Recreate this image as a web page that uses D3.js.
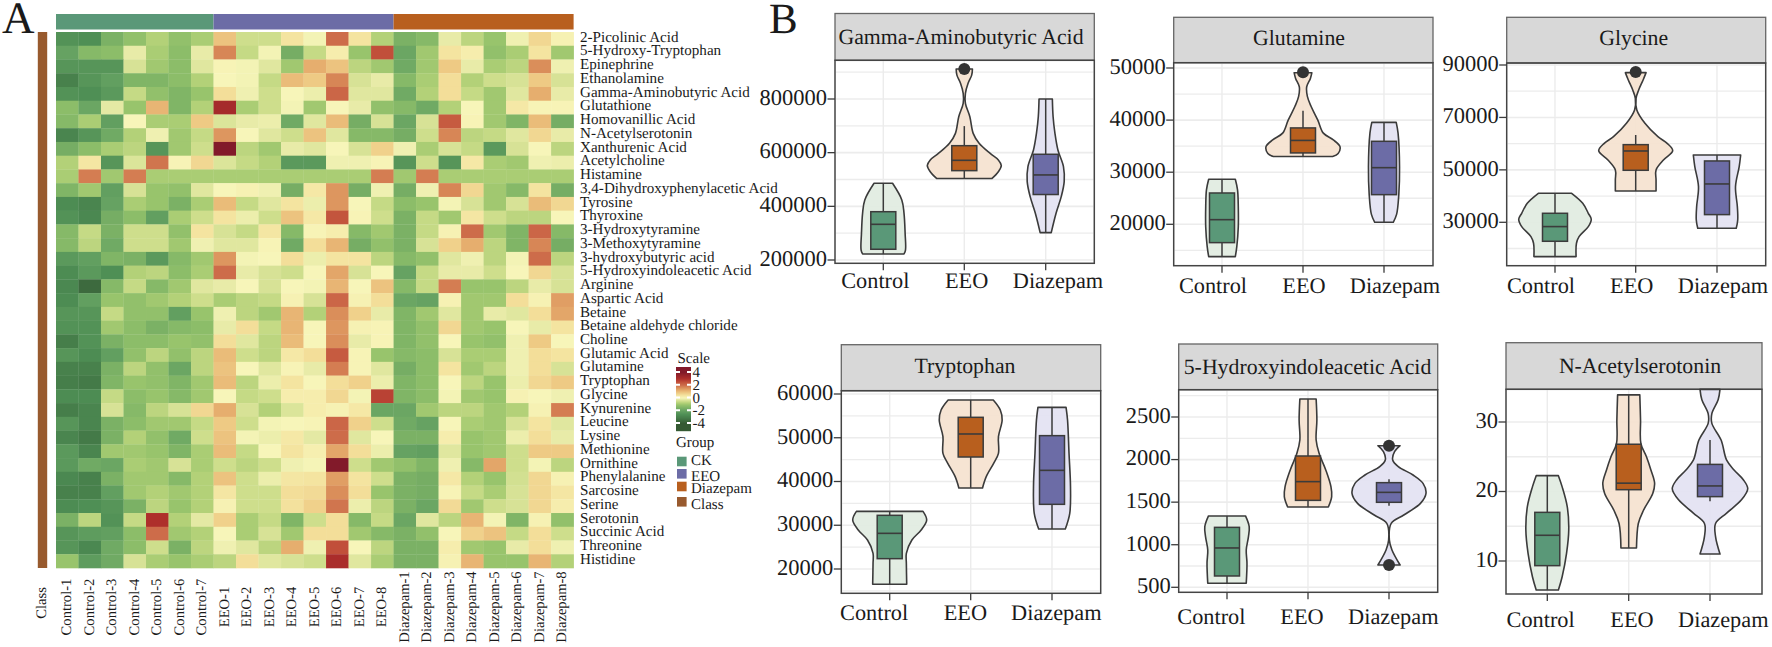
<!DOCTYPE html>
<html><head><meta charset="utf-8">
<script src="https://cdn.jsdelivr.net/npm/d3@7"></script>
<style>html,body{margin:0;padding:0;background:#fff;overflow:hidden}svg{display:block}text{font-family:"Liberation Serif",serif;fill:#1a1a1a;text-rendering:geometricPrecision}</style>
</head><body><svg id="c" width="1772" height="647"></svg>
<script>
// ---------- heatmap data ----------
const metabolites=["2-Picolinic Acid","5-Hydroxy-Tryptophan","Epinephrine","Ethanolamine","Gamma-Aminobutyric Acid","Glutathione","Homovanillic Acid","N-Acetylserotonin","Xanthurenic Acid","Acetylcholine","Histamine","3,4-Dihydroxyphenylacetic Acid","Tyrosine","Thyroxine","3-Hydroxytyramine","3-Methoxytyramine","3-hydroxybutyric acid","5-Hydroxyindoleacetic Acid","Arginine","Aspartic Acid","Betaine","Betaine aldehyde chloride","Choline","Glutamic Acid","Glutamine","Tryptophan","Glycine","Kynurenine","Leucine","Lysine","Methionine","Ornithine","Phenylalanine","Sarcosine","Serine","Serotonin","Succinic Acid","Threonine","Histidine"];
const samples=["Control-1","Control-2","Control-3","Control-4","Control-5","Control-6","Control-7","EEO-1","EEO-2","EEO-3","EEO-4","EEO-5","EEO-6","EEO-7","EEO-8","Diazepam-1","Diazepam-2","Diazepam-3","Diazepam-4","Diazepam-5","Diazepam-6","Diazepam-7","Diazepam-8"];
const heatValues=[
[-2.5,-2.6,-1.6,-1.2,-.8,-1.2,-.9,.9,-.5,-.5,.4,-.05,2,.4,-.8,-1.6,-1.4,-.2,-.7,-1.1,-.1,.6,.1],
[-2,-1.4,-1.3,-.2,-.9,-1.3,-.2,1.7,-.6,-.05,-1.7,-.6,.2,-1.1,2.5,-1.9,-1,.4,.2,-1.2,-.9,.4,-1],
[-2.4,-2.4,-2.4,-.4,-1,-1.3,-.3,.05,-.05,-.3,-1,1.2,.9,-.7,-1,-1.8,-1,.8,-.2,-.9,-.7,1.6,-.1],
[-3,-2.4,-2.1,-1.5,-1.5,-1.3,-.8,0,-.05,-.6,1,.8,1.7,-.4,-.2,-1.4,-.9,.5,-.8,-.5,-.4,.8,-.4],
[-2.5,-2.6,-2.3,-.6,-1.2,-1.5,-1.1,.5,-.1,-.5,0,-.15,2.1,-.3,-.3,-1.8,-.8,.5,-.6,-1,-.3,1.2,-.2],
[-1.3,-1.9,-.25,-1.1,1.1,-1.5,-.8,3.2,-.9,-.5,-.05,-1,0,-.2,-1.2,-1.4,-1.8,-.8,0,-1,.3,.05,.05],
[-1.4,-.9,-2.1,0,-.9,-.9,.8,-.35,-.2,-.15,-1.8,-.3,1,-1.7,-.4,-1.9,-.4,2.3,.05,-1,-1.5,1,-1.7],
[-2.9,-2.4,-1.8,-.8,-.1,-1,-.6,1.5,0,-.3,-.5,.9,-.3,-1.4,-1.4,-1.7,-.5,1.7,-.7,-.6,-.3,.6,-.2],
[-1.7,-1.3,-.9,-.7,-2.4,-1,-.5,4,-.7,-1,-.2,-.3,0,-.4,.7,-.1,-.9,-.4,-.6,-2.3,-.4,0,-.7],
[-.8,.35,-2.4,-.35,1.9,.05,.6,-.35,-.6,-.8,-2.3,-2.3,-.1,-.1,.05,-2.4,-.5,-2.4,.3,-.9,-1,-.1,-.15],
[-.9,1.8,-1,1.8,-.9,-.9,-.9,-.9,-.9,-.9,-.9,-.9,-.9,-.9,1.8,-1,1.8,-.9,-.9,-.9,-.9,-.9,-.9],
[-1.5,-1,-2.1,-.4,-1.1,-1.2,-.3,0,.1,-.1,-1.7,.3,1.5,-1.7,-.1,-1.7,-.1,1.7,.6,-1,-1.4,.4,-1.7],
[-2.7,-2.9,-2,-.9,-1.1,-1.6,-.9,1,-.6,-.3,.4,-.15,1.5,0,-.6,-1.3,-1.1,-.05,-.4,-1,-.4,1,.6],
[-2.5,-2.8,-1.7,-1.3,-2.1,-.9,-.5,.4,-.15,-.5,.9,.3,2.4,.05,-.5,-1.6,-.6,-1,.35,-.5,-.7,-.7,0],
[-1.4,-.6,-1.6,-.5,-.5,-1.2,.4,-.4,-.6,.35,-1.4,.05,.2,-1.4,-1,-1.6,-.6,.1,2,-1,-1.5,2.1,-1.4],
[-1.4,-.7,-1.8,-.5,-.5,-1,-.1,-.3,-.3,.05,-1.8,.5,1.1,-1.7,-1.2,-1.6,-.4,.7,1.2,-.7,-1.5,1.7,-1.7],
[-2.3,-2.1,-1.5,-1.6,-2.3,-1.4,-1,1.5,-.05,0,.5,-.15,.4,.4,-.7,-1.4,-1.2,-.3,-.1,-.7,-.05,2,-.7],
[-2.7,-2.3,-2.6,-.8,-.7,-1.3,-.9,2,-.2,-.4,-.5,0,1.3,-.4,0,-2,-.6,-.2,-.2,-.5,0,.6,-.4],
[-2.8,-3.6,-1.4,-.6,-1.4,-1,-.3,-.2,0,-.4,0,-.05,1.1,0,.9,-1.4,-.6,1.8,-1.1,-1.1,-.7,-.2,-.4],
[-2.7,-2.1,-1.1,-1.2,-1,-.8,-.5,-.9,-.7,-.6,.1,-.4,2.1,.1,.5,-1.9,-2,.1,-1,-1,.5,.1,1.4],
[-2.4,-2.4,-.6,-1.2,-1.2,-2.1,-1.1,-.1,-.7,-1,1.1,-.8,1.6,.7,-.2,-1.5,-1,-.3,-1,-.2,-.3,.5,1.3],
[-2.5,-2.5,-1,-1.3,-1.6,-1.4,-1.3,-.2,.5,-.6,1.1,0,1.5,.1,.05,-1.5,-1.2,.6,-1,-1.1,0,-.2,.4],
[-3.1,-2.5,-1.6,-1.3,-1.3,-1.1,-1.2,.5,-.3,-.7,1,0,1.6,-.2,.05,-1.5,-1.2,0,-1.1,-1.2,-.1,.8,0],
[-2.4,-2.7,-2.1,-1.2,-.7,-1.2,-.7,1,-.5,-.7,.3,.5,2.3,.05,-1.1,-1.4,-1.3,-.4,-.9,-.9,-.1,.5,.4],
[-3,-3,-1.6,-.7,-1.2,-1.9,-.7,.9,0,-.3,.05,-.2,1.8,.05,-.3,-1.7,-1.3,.4,-1,-.7,-.1,.5,-.4],
[-3.1,-3.2,-1.5,-1.1,-1.2,-1.5,-1,1,-.7,-.15,.4,0,.5,.7,-.15,-1.5,-1.3,0,-.7,-1.1,-.15,.6,.8],
[-2.7,-2.7,-.6,-1.3,-1.1,-1.4,-1,0,-.6,-.5,.2,.2,.6,-.05,2.7,-1.5,-1.3,-.05,-1,-1.1,.1,0,-.1],
[-3.1,-2.9,-.4,-1.4,-.7,-.4,.6,1.2,-.4,-.8,-.35,.2,.1,.3,-1.9,-1.9,-1,-.7,-.7,-1,-.8,.1,1.8],
[-2.4,-2.9,-1.6,-1.3,-1,-1,-.6,.8,-.5,-.05,0,.05,2.1,.7,-.5,-1.8,-2,0,-.9,-1,-.4,.4,-.3],
[-2.9,-3.2,-1.6,-.8,-1.2,-1.8,-.5,.9,-.05,-.15,.3,-.25,2,-.3,0,-1.6,-1.6,.2,-1.1,-1,-.15,.5,-.2],
[-2.3,-2.9,-1,-1,-1.1,-1.5,-.9,1,-.6,0,.4,.15,1.3,.5,-.15,-2,-2.1,-.3,-1.1,-1,-.5,.8,.8],
[-2.3,-1.8,-1.9,-.9,-1,-.4,-.9,-.5,-.7,-.5,-.1,-.02,4,-.5,-1,-1.2,-1.5,-.1,-1.4,1.3,-.5,-.05,-.7],
[-2.8,-3,-1.6,-1,-1,-1.4,-.8,.9,-.5,-.15,.35,.4,1.4,.4,-.5,-1.6,-1.7,.3,-.8,-1.1,-.45,.6,.1],
[-3,-3,-2.1,-1,-.8,-1,-.8,.35,-.5,-.5,.5,.55,1.6,.5,-1.1,-1.6,-1.7,.05,-.6,-.9,-.4,.6,.35],
[-2.7,-2.6,-2.4,-1.6,-.7,-1.1,-.8,.1,-.5,-.5,.45,.7,1.9,-.15,-.7,-1.6,-1.9,.55,-1,-.5,-.4,.6,.2],
[-1.6,-.7,-2.5,-.6,3,-.8,-.25,.7,-.9,-.6,-1.5,-.5,.5,-1.4,-.6,-1.9,-.3,-.7,1.1,-.05,-1.5,.1,-1.2],
[-2.4,-2.2,-2.1,-1.3,2,-1,-.8,0,-.9,-.4,-1,.5,.5,-1,-1.4,-1.6,-1.2,0,.7,.9,-.6,.5,-.5],
[-2.4,-2.8,-1.8,-1.3,-.5,-1.6,-.7,-.1,-.3,-.7,1.2,-.1,2.5,0,-.7,-1.6,-1.6,.2,-1,-1.1,-.2,.5,-.1],
[-1.1,-2.2,-1.8,-.4,-.9,-1.1,-.9,-.7,.5,-.3,-.4,-.5,3.1,-.3,-.9,-1.6,-1.6,.1,1.1,-1.1,-1.1,1.1,-.8]
];
const legendTicks=[4,2,0,-2,-4];
const legendGroups=["CK","EEO","Diazepam","Class"];
const groupNames=["Control","EEO","Diazepam"];

// ---------- violin data: each profile is [value, relative half width] ----------
const gabaProfiles=[
 [[485800,.25],[424000,.5],[374000,.56],[299000,.59],[237000,.6],[222500,.56]],
 [[911800,.22],[889000,.2],[858000,.1],[821000,.03],[784000,.03],[734000,.15],[672000,.24],[635000,.4],[597000,.7],[573000,.92],[552000,1],[529000,.92],[504000,.75]],
 [[800000,.18],[734000,.2],[672000,.25],[610000,.33],[548000,.48],[492000,.5],[436000,.42],[374000,.28],[302000,.15]]];
const gabaBoxes=[[222500,240000,333000,380000,485800],[504000,533000,571500,626000,699000],[302000,444000,517000,594000,800000]];
const gabaOutliers=[[],[912000],[]];

const glutamineProfiles=[
 [[28640,.36],[26600,.42],[23400,.44],[19500,.44],[15700,.4],[13790,.36]],
 [[49100,.24],[48000,.2],[46400,.1],[44500,.12],[42600,.22],[40000,.4],[37500,.55],[36200,.82],[34900,1],[33600,.95],[33000,.8]],
 [[39570,.33],[37500,.38],[31000,.42],[25700,.4],[21900,.34],[20380,.25]]];
const glutamineBoxes=[[13900,16480,20890,26010,28600],[33100,33700,36100,38500,41800],[20400,25690,30870,35930,39570]];
const glutamineOutliers=[[],[49200],[]];

const glycineProfiles=[
 [[41070,.45],[37250,.75],[33440,.9],[31150,.98],[28360,.9],[24540,.65],[22000,.58],[16920,.57]],
 [[87080,.28],[84280,.2],[80470,.08],[77290,.01],[72840,.03],[67760,.25],[62670,.6],[60130,.85],[57340,1],[53780,.75],[49970,.55],[46150,.55],[41960,.55]],
 [[55680,.64],[51240,.6],[43600,.5],[35980,.55],[30900,.56],[27720,.52]]];
const glycineBoxes=[[16920,22760,28360,33440,41070],[41960,49840,57200,59620,63300],[27720,32930,44630,53400,55680]];
const glycineOutliers=[[],[87300],[]];

const tryptophanProfiles=[
 [[33180,.9],[31200,1],[28915,.85],[26630,.6],[23580,.45],[21300,.45],[16500,.46]],
 [[58630,.61],[56340,.8],[54060,.85],[50250,.75],[46440,.75],[44150,.62],[41100,.42],[38530,.32]],
 [[56950,.38],[54060,.42],[46440,.46],[38820,.5],[32720,.48],[29140,.36]]];
const tryptophanBoxes=[[16500,22360,28150,32270,33180],[38530,45600,50860,54670,58630],[29140,34780,42550,50480,56950]];
const tryptophanOutliers=[[],[],[]];

const hiaaProfiles=[
 [[1338,.5],[1212,.6],[1095,.58],[938,.52],[782,.54],[547,.52]],
 [[2711,.22],[2465,.24],[2230,.22],[2073,.3],[1878,.48],[1682,.62],[1565,.64],[1443,.55]],
 [[2163,.3],[2093,.15],[1995,.1],[1917,.25],[1819,.65],[1721,.92],[1604,1],[1486,.85],[1349,.4],[1251,.06],[1056,.01],[939,.08],[762,.3]]];
const hiaaBoxes=[[547,633,962,1204,1338],[1443,1521,1741,2042,2711],[1459,1498,1615,1729,1768]];
const hiaaOutliers=[[],[],[2163,762]];

const nasProfiles=[
 [[22.28,.3],[20.7,.4],[17.8,.54],[14.5,.58],[11.1,.52],[7.7,.4],[5.83,.3]],
 [[33.9,.3],[30.3,.32],[26.9,.33],[25,.48],[23.1,.6],[21.2,.7],[19.7,.65],[17.3,.4],[15.4,.26],[11.87,.21]],
 [[34.7,.27],[33.2,.22],[31.2,.05],[29.8,.05],[27.4,.3],[24.5,.45],[23.1,.65],[21.7,.9],[20.4,1.02],[18.8,.85],[16.9,.45],[15.4,.15],[13.5,.15],[11,.27]]];
const nasBoxes=[[5.83,9.33,13.7,17,22.28],[11.87,20.26,21.2,26.8,33.9],[18.6,19.26,20.8,23.9,27.4]];
const nasOutliers=[[],[],[]];

const panelTitles=["Gamma-Aminobutyric Acid","Glutamine","Glycine","Tryptophan","5-Hydroxyindoleacetic Acid","N-Acetylserotonin"];
const panelTicks=[[200000,400000,600000,800000],[20000,30000,40000,50000],[30000,50000,70000,90000],[20000,30000,40000,50000,60000],[500,1000,1500,2000,2500],[10,20,30]];

// ---------- layout ----------
const svg=d3.select("#c");
const SERIF='"Liberation Serif",serif';
const heat={x0:56,x1:573.6,y0:32,y1:568};
const stops=[[-4,"#355a33"],[-3.2,"#447a48"],[-2.6,"#4f8f55"],[-2,"#66a262"],[-1.5,"#80b566"],[-1.1,"#98c46c"],[-.8,"#b3d178"],[-.5,"#cede8c"],[-.25,"#e4e9a4"],[0,"#f7f5b9"],[.4,"#f4e4a0"],[.8,"#eeca84"],[1.2,"#e6ae6e"],[1.6,"#da8e5a"],[2,"#cd6c4a"],[2.5,"#c14f3a"],[3,"#ae2f2b"],[4,"#821a2a"]];
const color=d3.scaleLinear().domain(stops.map(d=>d[0])).range(stops.map(d=>d[1])).interpolate(d3.interpolateRgb);
const xH=d3.scaleBand().domain(samples).range([heat.x0,heat.x1]);
const yH=d3.scaleBand().domain(metabolites).range([heat.y0,heat.y1]);

const G=svg.append("g");
G.selectAll("g.r").data(heatValues).join("g").attr("class","r").each(function(row,i){
  d3.select(this).selectAll("rect").data(row).join("rect")
   .attr("x",(d,j)=>xH(samples[j])).attr("y",yH(metabolites[i])).attr("width",xH.bandwidth()+.3).attr("height",yH.bandwidth()+.3)
   .attr("fill",d=>color(d));
});
// annotation bars
const annGroups=[{c:"#5a9878",a:0,b:6},{c:"#6c6ca6",a:7,b:14},{c:"#b85f1e",a:15,b:22}];
annGroups.forEach(g=>G.append("rect").attr("x",xH(samples[g.a])).attr("y",14).attr("width",xH(samples[g.b])+xH.bandwidth()-xH(samples[g.a])).attr("height",15.5).attr("fill",g.c));
G.append("rect").attr("x",37.8).attr("y",heat.y0).attr("width",9.4).attr("height",heat.y1-heat.y0).attr("fill","#985a2e");
// labels
G.selectAll("text.m").data(metabolites).join("text").attr("class","m").attr("x",580)
 .attr("y",(d,i)=>41.7+i*13.74).attr("font-size",15.1).attr("font-family",SERIF).text(d=>d);
G.selectAll("text.s").data(samples).join("text").attr("class","s").attr("text-anchor","middle")
 .attr("transform",d=>`translate(${xH(d)+xH.bandwidth()/2+3.8},607) rotate(-90)`).attr("font-size",14.6).attr("font-family",SERIF).text(d=>d);
G.append("text").attr("text-anchor","middle").attr("transform","translate(46,603) rotate(-90)").attr("font-size",14.6).attr("font-family",SERIF).text("Class");
svg.append("text").attr("x",2).attr("y",33).attr("font-size",45).attr("font-family",SERIF).text("A");
svg.append("text").attr("x",769).attr("y",33).attr("font-size",43).attr("font-family",SERIF).text("B");

// legend
const yL=d3.scaleLinear().domain([-4,4]).range([423,372]);
G.append("text").attr("x",677.5).attr("y",363).attr("font-size",15).attr("font-family",SERIF).text("Scale");
d3.range(0,64).forEach(i=>{
  const v=yL.invert(367+i);
  G.append("rect").attr("x",676).attr("y",367+i).attr("width",15).attr("height",1.2).attr("fill",color(Math.max(-4,Math.min(4,v))));
});
legendTicks.forEach(t=>{
  [676,687].forEach(x=>G.append("rect").attr("x",x).attr("y",yL(t)-1).attr("width",4).attr("height",2).attr("fill","#fff"));
  G.append("text").attr("x",692.5).attr("y",yL(t)+5).attr("font-size",15).attr("font-family",SERIF).text(t);
});
G.append("text").attr("x",676).attr("y",446.5).attr("font-size",15).attr("font-family",SERIF).text("Group");
const lgY=[456.7,469,481.7,497], lgB=[465,480.7,493,509], lgC=["#5a9878","#6c6ca6","#b85f1e","#985a2e"];
legendGroups.forEach((g,i)=>{
  G.append("rect").attr("x",677).attr("y",lgY[i]).attr("width",9.6).attr("height",9.6).attr("fill",lgC[i]);
  G.append("text").attr("x",691).attr("y",lgB[i]).attr("font-size",15).attr("font-family",SERIF).text(g);
});

// ---------- violin panels ----------
const panelLayout=[
 {x0:835,x1:1094.3,sy0:13.5,sy1:60.3,y1:263.3,cx:[883.3,964.3,1045.7],t:[800000,99,200000,260],titleX:961,titleY:43.5,labDy:25,labOff:[-8,2.3,12.3],profiles:gabaProfiles,boxes:gabaBoxes,out:gabaOutliers},
 {x0:1173.7,x1:1433,sy0:17.3,sy1:62.7,y1:265.7,cx:[1222,1303,1384],t:[50000,68,20000,224.3],titleX:1299,titleY:45,labDy:27,labOff:[-9,1,11],profiles:glutamineProfiles,boxes:glutamineBoxes,out:glutamineOutliers},
 {x0:1506.7,x1:1765.7,sy0:17.3,sy1:63,y1:265.7,cx:[1555,1635.7,1717],t:[90000,65,30000,222.3],titleX:1633.7,titleY:45,labDy:27,labOff:[-14,-4,6],profiles:glycineProfiles,boxes:glycineBoxes,out:glycineOutliers},
 {x0:841.3,x1:1100.7,sy0:344.7,sy1:390.7,y1:593.3,cx:[889.7,970.7,1052],t:[60000,394,20000,569],titleX:965,titleY:373,labDy:27,labOff:[-15.6,-5.3,4.3],profiles:tryptophanProfiles,boxes:tryptophanBoxes,out:tryptophanOutliers},
 {x0:1178.7,x1:1437.7,sy0:344,sy1:389.7,y1:592.3,cx:[1227,1308,1389],t:[2500,417,500,587.3],titleX:1307.5,titleY:374,labDy:32,labOff:[-15.6,-6,4.3],profiles:hiaaProfiles,boxes:hiaaBoxes,out:hiaaOutliers},
 {x0:1506,x1:1762,sy0:342.7,sy1:389.3,y1:594,cx:[1547.3,1628.7,1710],t:[30,422,10,561],titleX:1640,titleY:373,labDy:33,labOff:[-6.7,3.3,13.3],profiles:nasProfiles,boxes:nasBoxes,out:nasOutliers}
];
const violinFill=["#e1ebe1","#f5e2cf","#e3e2f2"], boxFill=["#5a9878","#b85f1e","#6c6ca6"];
const ink="#3b3b3b", MAXHW=37, BOXHW=12.5;

panelLayout.forEach((p,pi)=>{
  const g=svg.append("g");
  const y=d3.scaleLinear().domain([p.t[2],p.t[0]]).range([p.t[3],p.t[1]]);
  const ticks=panelTicks[pi];
  const step=ticks[1]-ticks[0];
  const grid=d3.range(ticks[0]-step*2,ticks[ticks.length-1]+step*2,step/2).filter(v=>y(v)>p.sy1+1&&y(v)<p.y1-1);
  g.selectAll("line.h").data(grid).join("line").attr("x1",p.x0+1).attr("x2",p.x1-1).attr("y1",d=>y(d)).attr("y2",d=>y(d))
    .attr("stroke","#ececec").attr("stroke-width",d=>ticks.includes(d)?1.6:1.3);
  p.cx.forEach(c=>g.append("line").attr("x1",c).attr("x2",c).attr("y1",p.sy1+1).attr("y2",p.y1-1).attr("stroke","#ececec").attr("stroke-width",1.4));
  // panel frame and strip
  g.append("rect").attr("x",p.x0).attr("y",p.sy0).attr("width",p.x1-p.x0).attr("height",p.sy1-p.sy0).attr("fill","#d8d8d8").attr("stroke","#666").attr("stroke-width",1.3);
  g.append("rect").attr("x",p.x0).attr("y",p.sy1).attr("width",p.x1-p.x0).attr("height",p.y1-p.sy1).attr("fill","none").attr("stroke","#444").attr("stroke-width",1.5);
  g.append("text").attr("x",p.titleX).attr("y",p.titleY).attr("text-anchor","middle").attr("font-size",21.8).attr("font-family",SERIF).text(panelTitles[pi]);
  // y ticks
  ticks.forEach(t=>{
    g.append("line").attr("x1",p.x0-7.5).attr("x2",p.x0).attr("y1",y(t)).attr("y2",y(t)).attr("stroke",ink).attr("stroke-width",1.3);
    g.append("text").attr("x",p.x0-8).attr("y",y(t)+5.8).attr("text-anchor","end").attr("font-size",22.5).attr("font-family",SERIF).text(t);
  });
  groupNames.forEach((name,gi)=>{
    const c=p.cx[gi];
    g.append("line").attr("x1",c).attr("x2",c).attr("y1",p.y1).attr("y2",p.y1+7).attr("stroke",ink).attr("stroke-width",1.3);
    g.append("text").attr("x",c+p.labOff[gi]).attr("y",p.y1+p.labDy).attr("text-anchor","middle").attr("font-size",22.3).attr("font-family",SERIF).text(name);
    const area=d3.area().curve(d3.curveCatmullRom.alpha(.5)).y(d=>y(d[0])).x0(d=>c-d[1]*MAXHW).x1(d=>c+d[1]*MAXHW);
    g.append("path").attr("d",area(p.profiles[gi])).attr("fill",violinFill[gi]).attr("fill-opacity",.92).attr("stroke",ink).attr("stroke-width",1.6).attr("stroke-linejoin","round");
    const [lo,q1,med,q3,hi]=p.boxes[gi];
    g.append("line").attr("x1",c).attr("x2",c).attr("y1",y(lo)).attr("y2",y(hi)).attr("stroke",ink).attr("stroke-width",1.5);
    g.append("rect").attr("x",c-BOXHW).attr("width",BOXHW*2).attr("y",y(q3)).attr("height",y(q1)-y(q3)).attr("fill",boxFill[gi]).attr("stroke",ink).attr("stroke-width",1.5);
    g.append("line").attr("x1",c-BOXHW).attr("x2",c+BOXHW).attr("y1",y(med)).attr("y2",y(med)).attr("stroke",ink).attr("stroke-width",1.6);
    p.out[gi].forEach(o=>g.append("circle").attr("cx",c).attr("cy",y(o)).attr("r",6).attr("fill","#333"));
  });
});
</script></body></html>
